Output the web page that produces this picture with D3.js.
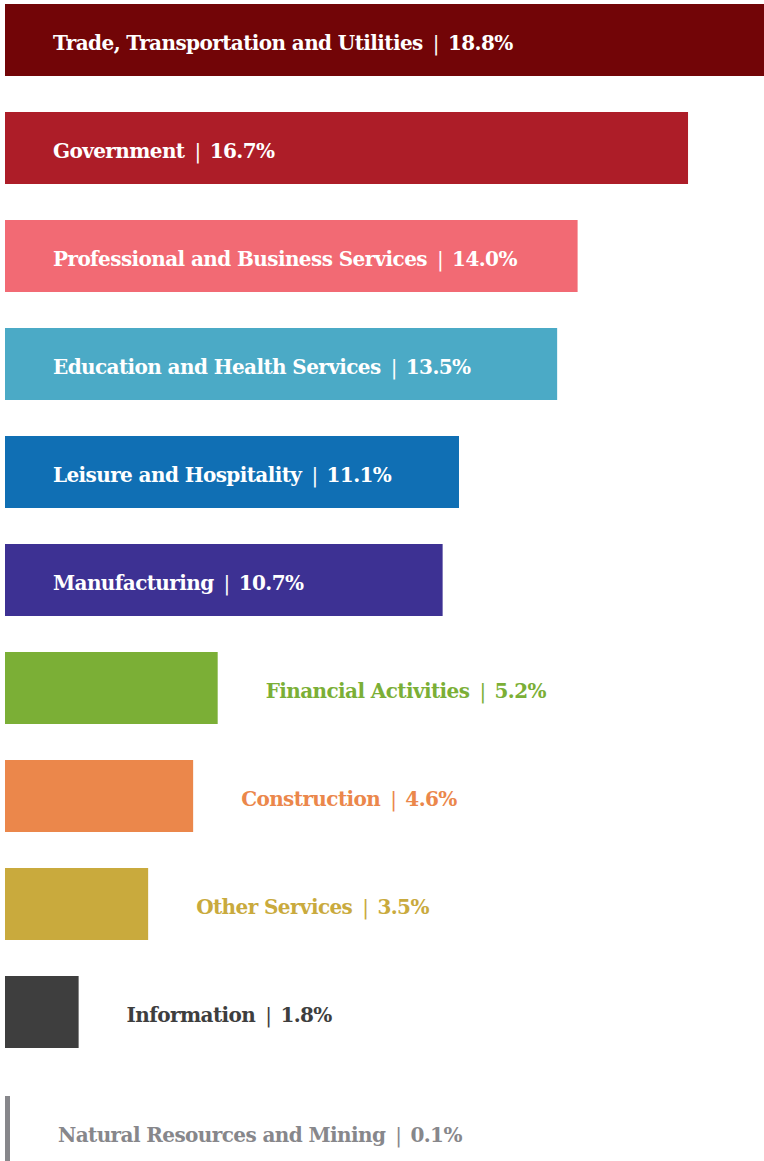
<!DOCTYPE html>
<html>
<head>
<meta charset="utf-8">
<script src="https://cdn.jsdelivr.net/npm/d3@7"></script>
<style>
  body { margin: 0; background: #fff; }
  svg { display: block; }
</style>
</head>
<body>
<div id="vis"></div>
<script>
// industry shares, in reading order
let industries = [
  "Trade, Transportation and Utilities",
  "Government",
  "Professional and Business Services",
  "Education and Health Services",
  "Leisure and Hospitality",
  "Manufacturing",
  "Financial Activities",
  "Construction",
  "Other Services",
  "Information",
  "Natural Resources and Mining"
];
let shares = [18.8, 16.7, 14.0, 13.5, 11.1, 10.7, 5.2, 4.6, 3.5, 1.8, 0.1];
let colors = ["#720507", "#ad1d28", "#f26a74", "#4baac6", "#106fb4", "#3d3193",
              "#7baf36", "#eb874b", "#c9aa3d", "#3e3e3e", "#87878b"];

let width = 764,
  height = 1161,
  left = 5;

let data = industries.map((name, i) => ({ name: name, value: shares[i], color: colors[i] }));

let svg = d3.select("#vis")
  .append("svg")
  .attr("width", width)
  .attr("height", height);

let x = d3.scaleLinear().domain([0, 20]).range([0, 818]);
let y = d3.scaleBand().domain(industries).range([4, 1156]).paddingInner(1 / 3).paddingOuter(0);

// last row sits a little lower in the original
let rowY = (d, i) => y(d.name) + (i === industries.length - 1 ? 12 : 0);

let rows = svg.append("g")
  .selectAll("g")
  .data(data)
  .join("g")
  .attr("transform", (d, i) => `translate(${left}, ${rowY(d, i)})`);

rows.append("rect")
  .attr("width", d => Math.max(x(d.value), 5))
  .attr("height", y.bandwidth())
  .attr("fill", d => d.color);

// wide bars get the label inside, short ones after the bar
let inside = d => d.value > 10;

let label = rows.append("text")
  .attr("x", d => (inside(d) ? 0 : Math.max(x(d.value), 5)) + 48)
  .attr("y", 46)
  .attr("fill", d => inside(d) ? "#fff" : d.color)
  .style("font-family", "'DejaVu Serif', serif")
  .style("font-weight", "bold")
  .style("font-size", "20px")
  .style("letter-spacing", "-0.6px");

label.append("tspan").text(d => d.name);
label.append("tspan").attr("dx", 10).style("font-weight", "normal").text("|");
label.append("tspan").attr("dx", 9).text(d => d.value.toFixed(1) + "%");
</script>
</body>
</html>
